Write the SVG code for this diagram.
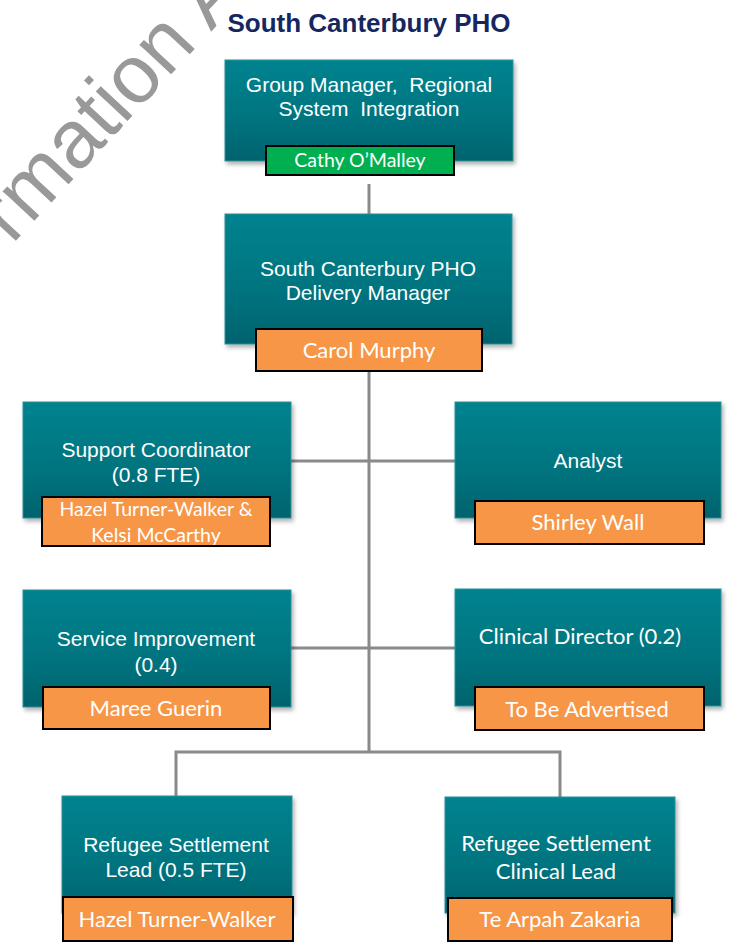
<svg xmlns="http://www.w3.org/2000/svg" width="732" height="951" viewBox="0 0 732 951">
  <defs>
    <linearGradient id="teal" x1="0" y1="0" x2="0" y2="1">
      <stop offset="0" stop-color="#02838f"/>
      <stop offset="0.55" stop-color="#017580"/>
      <stop offset="1" stop-color="#01636d"/>
    </linearGradient>
    <filter id="shadow" x="-10%" y="-10%" width="125%" height="130%">
      <feDropShadow dx="2" dy="3" stdDeviation="2.2" flood-color="#000" flood-opacity="0.3"/>
    </filter>
    <style>
      .box { fill: url(#teal); stroke: #2b8f98; stroke-width: 1; filter: url(#shadow); }
      .orange { fill: #f79646; stroke: #000; stroke-width: 2; }
      .green { fill: #00b050; stroke: #000; stroke-width: 2; }
      .ttl { font-family: "Liberation Sans", Arial, sans-serif; font-size: 21px; fill: #fff; text-anchor: middle; white-space: pre; }
      .cal { font-family: Lato, "Open Sans", sans-serif; font-size: 22px; fill: #fff; text-anchor: middle; white-space: pre; }
      .nm { font-family: Lato, "Open Sans", sans-serif; font-size: 22px; fill: #fff; text-anchor: middle; }
      .nm-s { font-family: Lato, "Open Sans", sans-serif; font-size: 19.5px; fill: #fff; text-anchor: middle; }
      .conn { stroke: #8a8a8a; stroke-width: 3; fill: none; }
      .title { font-family: "Liberation Sans", Arial, sans-serif; font-size: 26px; font-weight: bold; fill: #16275f; text-anchor: middle; }
      .wm { font-family: "Liberation Sans", Arial, sans-serif; font-size: 82px; fill: #999; }
    </style>
  </defs>
  <rect width="732" height="951" fill="#fff"/>

  <text class="wm" transform="translate(12,245) rotate(-47)">rmation A</text>

  <text class="title" x="369" y="32">South Canterbury PHO</text>

  <g id="connectors">
    <line class="conn" x1="369" y1="184" x2="369" y2="214"/>
    <line class="conn" x1="369" y1="371" x2="369" y2="752"/>
    <line class="conn" x1="289" y1="461" x2="455" y2="461"/>
    <line class="conn" x1="291" y1="648" x2="455" y2="648"/>
    <polyline class="conn" points="176,797 176,752 560,752 560,797"/>
  </g>

  <g id="n-group-manager">
    <rect class="box" x="225" y="60" width="288" height="101"/>
    <text class="ttl" x="369" y="92">Group Manager,  Regional</text>
    <text class="ttl" x="369" y="116">System  Integration</text>
    <rect class="green" x="266" y="146" width="188" height="29"/>
    <text class="nm-s" x="360" y="167">Cathy O’Malley</text>
  </g>

  <g id="n-delivery-manager">
    <rect class="box" x="225" y="214" width="287" height="130"/>
    <text class="ttl" x="368" y="276">South Canterbury PHO</text>
    <text class="ttl" x="368" y="300">Delivery Manager</text>
    <rect class="orange" x="256" y="329" width="226" height="42"/>
    <text class="nm" x="369" y="358">Carol Murphy</text>
  </g>

  <g id="n-support-coordinator">
    <rect class="box" x="23" y="402" width="268" height="116"/>
    <text class="ttl" x="156" y="457">Support Coordinator</text>
    <text class="ttl" x="156" y="482">(0.8 FTE)</text>
    <rect class="orange" x="42" y="497" width="228" height="49"/>
    <text class="nm-s" x="156" y="516">Hazel Turner-Walker &amp;</text>
    <text class="nm-s" x="156" y="542">Kelsi McCarthy</text>
  </g>

  <g id="n-analyst">
    <rect class="box" x="455" y="402" width="266" height="116"/>
    <text class="ttl" x="588" y="468">Analyst</text>
    <rect class="orange" x="475" y="501" width="229" height="43"/>
    <text class="nm" x="588" y="530">Shirley Wall</text>
  </g>

  <g id="n-service-improvement">
    <rect class="box" x="23" y="590" width="268" height="117"/>
    <text class="ttl" x="156" y="646">Service Improvement</text>
    <text class="ttl" x="156" y="672">(0.4)</text>
    <rect class="orange" x="43" y="687" width="227" height="42"/>
    <text class="nm" x="156" y="716">Maree Guerin</text>
  </g>

  <g id="n-clinical-director">
    <rect class="box" x="455" y="589" width="266" height="117"/>
    <text class="cal" x="580" y="644">Clinical Director (0.2)</text>
    <rect class="orange" x="475" y="687" width="229" height="43"/>
    <text class="nm" x="587" y="717">To Be Advertised</text>
  </g>

  <g id="n-refugee-lead">
    <rect class="box" x="62" y="796" width="230" height="117"/>
    <text class="ttl" x="176" y="852">Refugee Settlement</text>
    <text class="ttl" x="176" y="877">Lead (0.5 FTE)</text>
    <rect class="orange" x="63" y="897" width="230" height="44"/>
    <text class="nm" x="177" y="927">Hazel Turner-Walker</text>
  </g>

  <g id="n-refugee-clinical-lead">
    <rect class="box" x="445" y="797" width="230" height="116"/>
    <text class="cal" x="556" y="851">Refugee Settlement</text>
    <text class="cal" x="556" y="879">Clinical Lead</text>
    <rect class="orange" x="448" y="898" width="224" height="43"/>
    <text class="nm" x="560" y="927">Te Arpah Zakaria</text>
  </g>
</svg>
